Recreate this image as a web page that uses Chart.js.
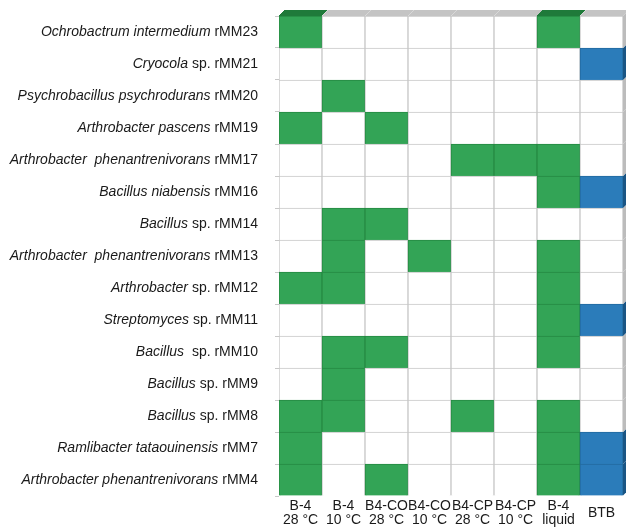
<!DOCTYPE html>
<html>
<head>
<meta charset="utf-8">
<script src="https://cdn.jsdelivr.net/npm/chart.js@4.4.0/dist/chart.umd.min.js"></script>
<style>
  html, body { margin: 0; padding: 0; background: #fff; }
  canvas { display: block; }
</style>
</head>
<body>
<canvas id="chart" width="626" height="528"></canvas>
<script>
// strains, top row first
const strains = [
    'Ochrobactrum intermedium rMM23',
    'Cryocola sp. rMM21',
    'Psychrobacillus psychrodurans rMM20',
    'Arthrobacter pascens rMM19',
    'Arthrobacter  phenantrenivorans rMM17',
    'Bacillus niabensis rMM16',
    'Bacillus sp. rMM14',
    'Arthrobacter  phenantrenivorans rMM13',
    'Arthrobacter sp. rMM12',
    'Streptomyces sp. rMM11',
    'Bacillus  sp. rMM10',
    'Bacillus sp. rMM9',
    'Bacillus sp. rMM8',
    'Ramlibacter tataouinensis rMM7',
    'Arthrobacter phenantrenivorans rMM4'
];

const media = [
    ['B-4', '28 °C'],
    ['B-4', '10 °C'],
    ['B4-CO', '28 °C'],
    ['B4-CO', '10 °C'],
    ['B4-CP', '28 °C'],
    ['B4-CP', '10 °C'],
    ['B-4', 'liquid'],
    'BTB'
];

// 0 = no growth, 1 = growth (green), 2 = BTB positive (blue)
const growth = [
    [1, 0, 0, 0, 0, 0, 1, 0], // rMM23
    [0, 0, 0, 0, 0, 0, 0, 2], // rMM21
    [0, 1, 0, 0, 0, 0, 0, 0], // rMM20
    [1, 0, 1, 0, 0, 0, 0, 0], // rMM19
    [0, 0, 0, 0, 1, 1, 1, 0], // rMM17
    [0, 0, 0, 0, 0, 0, 1, 2], // rMM16
    [0, 1, 1, 0, 0, 0, 0, 0], // rMM14
    [0, 1, 0, 1, 0, 0, 1, 0], // rMM13
    [1, 1, 0, 0, 0, 0, 1, 0], // rMM12
    [0, 0, 0, 0, 0, 0, 1, 2], // rMM11
    [0, 1, 1, 0, 0, 0, 1, 0], // rMM10
    [0, 1, 0, 0, 0, 0, 0, 0], // rMM9
    [1, 1, 0, 0, 1, 0, 1, 0], // rMM8
    [1, 0, 0, 0, 0, 0, 1, 2], // rMM7
    [1, 0, 1, 0, 0, 0, 1, 2]  // rMM4
];

const fillColors = ['#ffffff', '#33a456', '#2b7cba'];
const edgeColors = ['#c8c8c8', '#268a43', '#236a9f'];
const topColors = ['#c4c4c4', '#1f7a3a', '#1d5d8f'];
const sideColors = ['#bcbcbc', '#1c6e33', '#1a5584'];
const DEPTH = 6;

// one stacked segment per cell, bottom row first
const datasets = strains.map((name, i) => {
    const row = growth[i];
    return {
        label: name,
        data: row.map(() => 1),
        backgroundColor: row.map(c => fillColors[c]),
        borderColor: row.map(c => edgeColors[c]),
        borderWidth: 1,
        barPercentage: 1,
        categoryPercentage: 1,
        codes: row
    };
}).reverse();

// excel-like 3d faces on top row and right column
const faces = {
    id: 'faces',
    afterDatasetsDraw(chart) {
        const ctx = chart.ctx;
        const n = chart.data.datasets.length;
        ctx.save();
        chart.data.datasets.forEach((ds, di) => {
            const meta = chart.getDatasetMeta(di);
            meta.data.forEach((bar, ci) => {
                const code = ds.codes[ci];
                const l = bar.x - bar.width / 2, r = bar.x + bar.width / 2;
                const t = bar.y, b = bar.base;
                if (di === n - 1) {
                    ctx.fillStyle = topColors[code];
                    ctx.beginPath();
                    ctx.moveTo(l, t);
                    ctx.lineTo(l + DEPTH, t - DEPTH);
                    ctx.lineTo(r + DEPTH, t - DEPTH);
                    ctx.lineTo(r, t);
                    ctx.closePath();
                    ctx.fill();
                    ctx.strokeStyle = code ? topColors[code] : '#d8d8d8';
                    ctx.lineWidth = 1;
                    ctx.beginPath();
                    ctx.moveTo(l, t);
                    ctx.lineTo(l + DEPTH, t - DEPTH);
                    ctx.stroke();
                }
                if (ci === meta.data.length - 1) {
                    ctx.fillStyle = sideColors[code];
                    ctx.beginPath();
                    ctx.moveTo(r, t);
                    ctx.lineTo(r + DEPTH, t - DEPTH);
                    ctx.lineTo(r + DEPTH, b - DEPTH);
                    ctx.lineTo(r, b);
                    ctx.closePath();
                    ctx.fill();
                }
            });
        });
        ctx.restore();
    }
};

// strain names: genus/species italic, "sp." and isolate code upright
const strainLabels = {
    id: 'strainLabels',
    afterDraw(chart) {
        const ctx = chart.ctx;
        const y = chart.scales.y;
        const xEnd = chart.chartArea.left - 21;
        ctx.save();
        ctx.textBaseline = 'middle';
        ctx.textAlign = 'right';
        ctx.fillStyle = '#1a1a1a';
        strains.forEach((name, i) => {
            const yPix = y.getPixelForValue(strains.length - i - 0.5);
            const cut = name.search(/ +(sp\.|rMM)/);
            const ital = name.slice(0, cut);
            const rest = name.slice(cut);
            ctx.font = '14px "Liberation Sans", Arial, sans-serif';
            const w = ctx.measureText(rest).width;
            ctx.fillText(rest, xEnd, yPix);
            ctx.font = 'italic 14px "Liberation Sans", Arial, sans-serif';
            ctx.fillText(ital, xEnd - w, yPix);
        });
        ctx.restore();
    }
};

new Chart(document.getElementById('chart'), {
    type: 'bar',
    data: {
        labels: media,
        datasets: datasets
    },
    options: {
        responsive: false,
        animation: false,
        layout: { padding: { top: 16, right: 3, left: 0, bottom: 0 } },
        plugins: {
            legend: { display: false },
            tooltip: { enabled: false }
        },
        scales: {
            x: {
                stacked: true,
                grid: { display: false, drawTicks: false, tickLength: 0 },
                border: { display: false },
                ticks: {
                    color: '#1a1a1a',
                    font: { family: '"Liberation Sans", Arial, sans-serif', size: 14, lineHeight: 1 },
                    padding: 10,
                    maxRotation: 0,
                    autoSkip: false,
                    crossAlign: 'center'
                },
                afterFit(scale) { scale.height = 32; }
            },
            y: {
                stacked: true,
                min: 0,
                max: strains.length,
                ticks: { display: false, stepSize: 1 },
                grid: { drawOnChartArea: false, drawTicks: true, tickLength: 4, color: '#c8c8c8' },
                border: { display: false },
                afterFit(scale) { scale.width = 279; }
            }
        }
    },
    plugins: [faces, strainLabels]
});
</script>
</body>
</html>
